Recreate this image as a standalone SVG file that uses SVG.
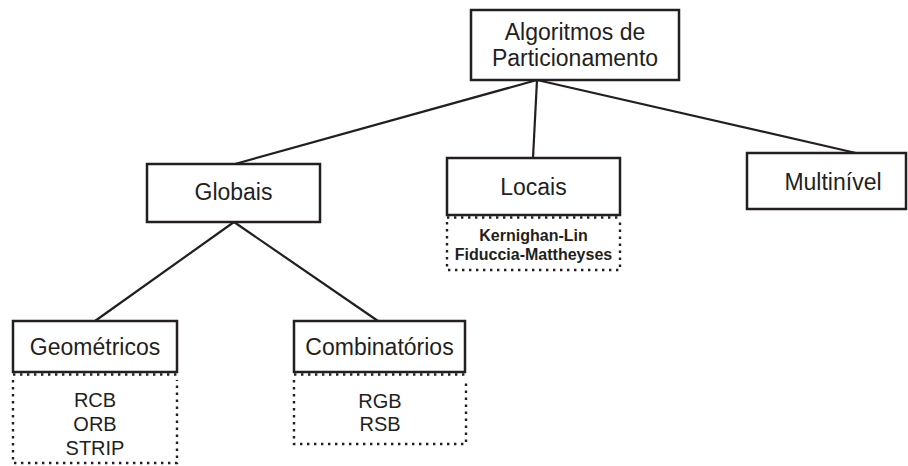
<svg xmlns="http://www.w3.org/2000/svg" width="908" height="466" viewBox="0 0 908 466">
<style>
.box{fill:#fff;stroke:#231f20;stroke-width:2.5}
.dot{fill:none;stroke:#231f20;stroke-width:2.4;stroke-dasharray:2.4 4.6}
.lbl{font-family:"Liberation Sans",Arial,sans-serif;font-size:23px;fill:#231f20;text-anchor:middle}
.sub{font-family:"Liberation Sans",Arial,sans-serif;font-size:20px;fill:#231f20;text-anchor:middle}
.bsub{font-family:"Liberation Sans",Arial,sans-serif;font-size:16px;font-weight:bold;fill:#231f20;text-anchor:middle}
.con{stroke:#231f20;stroke-width:2.2;fill:none}
</style>
<rect width="908" height="466" fill="#fff"/>
<g id="connectors">
<line class="con" x1="537" y1="80" x2="235" y2="164"/>
<line class="con" x1="537" y1="80" x2="533" y2="158"/>
<line class="con" x1="537" y1="80" x2="856" y2="153"/>
<line class="con" x1="234" y1="222" x2="95" y2="321"/>
<line class="con" x1="234" y1="222" x2="378" y2="321"/>
</g>
<g id="algoritmos">
<rect class="box" x="471" y="10" width="208" height="70"/>
<text class="lbl" x="575" y="40">Algoritmos de</text>
<text class="lbl" x="575" y="66">Particionamento</text>
</g>
<g id="globais">
<rect class="box" x="147" y="164" width="173" height="58"/>
<text class="lbl" x="233.5" y="200">Globais</text>
</g>
<g id="locais">
<path class="dot" d="M447 217.5 H620 M447 222 V270 H620 V222"/>
<rect class="box" x="447" y="158" width="173" height="57"/>
<text class="lbl" x="533.5" y="195">Locais</text>
<text class="bsub" x="533.5" y="241">Kernighan-Lin</text>
<text class="bsub" x="533.5" y="260">Fiduccia-Mattheyses</text>
</g>
<g id="multinivel">
<rect class="box" x="747" y="153" width="159" height="56"/>
<text class="lbl" x="833" y="190">Multinível</text>
</g>
<g id="geometricos">
<path class="dot" d="M13 374.5 H177 M13 380 V463 H177 V380"/>
<rect class="box" x="13" y="321" width="164" height="51"/>
<text class="lbl" x="95" y="355">Geométricos</text>
<text class="sub" x="95" y="407">RCB</text>
<text class="sub" x="95" y="431">ORB</text>
<text class="sub" x="95" y="455">STRIP</text>
</g>
<g id="combinatorios">
<path class="dot" d="M294 374.5 H466 M294 380 V444 H466 V380"/>
<rect class="box" x="294" y="321" width="171" height="51"/>
<text class="lbl" x="379.5" y="355">Combinatórios</text>
<text class="sub" x="380" y="408">RGB</text>
<text class="sub" x="380" y="431">RSB</text>
</g>
</svg>
